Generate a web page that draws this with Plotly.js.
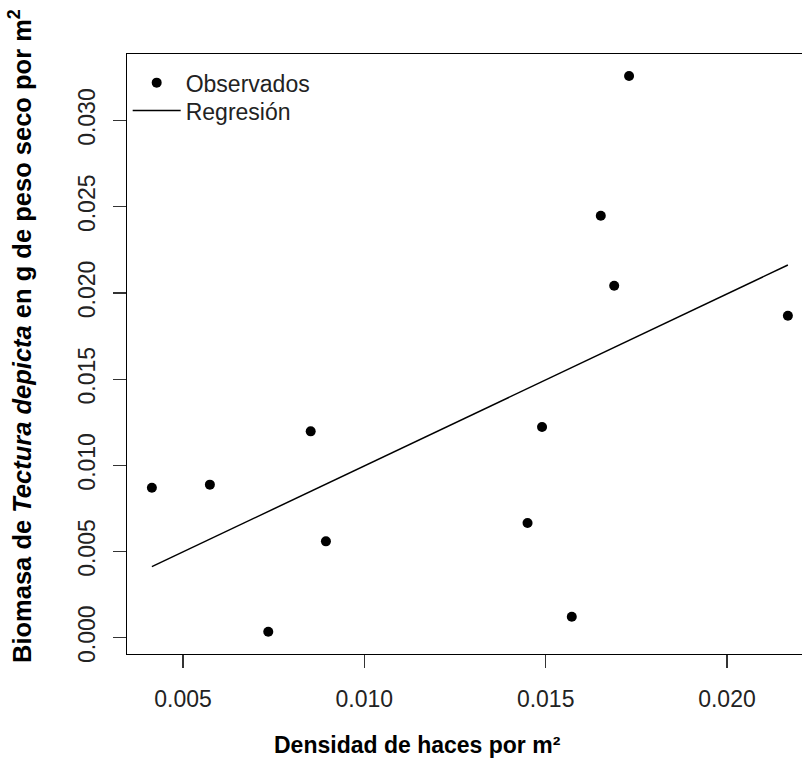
<!DOCTYPE html>
<html>
<head>
<meta charset="utf-8">
<script src="https://cdn.plot.ly/plotly-3.0.1.min.js"></script>
<style>
html, body { margin: 0; padding: 0; background: #fff; overflow: hidden; width: 802px; height: 761px; }
#chart { width: 820px; height: 761px; }
</style>
</head>
<body>
<div id="chart"></div>
<script>
// Observed points (densidad de haces por m², biomasa g peso seco por m²)
const obsX = [0.00414, 0.00574, 0.00735, 0.00852, 0.00894, 0.01450, 0.01490, 0.01572, 0.01652, 0.01689, 0.01730, 0.02168];
const obsY = [0.00870, 0.00888, 0.00035, 0.01197, 0.00559, 0.00665, 0.01222, 0.00122, 0.02448, 0.02042, 0.03258, 0.01868];
// Regression line end points
const regX = [0.00414, 0.02168];
const regY = [0.00412, 0.02162];
// Tick labels
const xTickVals = [0.005, 0.010, 0.015, 0.020];
const xTickText = ['0.005', '0.010', '0.015', '0.020'];
const yTickVals = [0.000, 0.005, 0.010, 0.015, 0.020, 0.025, 0.030];
const yTickText = ['0.000', '0.005', '0.010', '0.015', '0.020', '0.025', '0.030'];
const seriesNames = ['Observados', 'Regresión'];

const FONT = 'Liberation Sans, Arial, sans-serif';

const traces = [
  {
    x: obsX, y: obsY, type: 'scatter', mode: 'markers', name: seriesNames[0],
    marker: { color: '#000', size: 10 }, legend: 'legend'
  },
  {
    x: regX, y: regY, type: 'scatter', mode: 'lines', name: seriesNames[1],
    line: { color: '#000', width: 1.5 }, legend: 'legend2'
  }
];

const axisCommon = {
  showgrid: false, zeroline: false, showline: true, linecolor: '#000', linewidth: 1.3,
  mirror: true, ticks: 'outside', ticklen: 13, tickwidth: 1.2, tickcolor: '#333',
  tickfont: { family: FONT, size: 23, color: '#222' }, tickmode: 'array'
};

const legendCommon = {
  xanchor: 'left', yanchor: 'top', bgcolor: 'rgba(0,0,0,0)', borderwidth: 0,
  font: { family: FONT, size: 23, color: '#222' }, itemwidth: 48
};

const layout = {
  width: 820, height: 761,
  margin: { l: 127, r: 6, t: 54, b: 107 },
  paper_bgcolor: '#fff', plot_bgcolor: '#fff',
  showlegend: true,
  legend: Object.assign({}, legendCommon, { x: 0.001, y: 0.988 }),
  legend2: Object.assign({}, legendCommon, { x: 0.001, y: 0.9415 }),
  xaxis: Object.assign({}, axisCommon, {
    range: [0.003454, 0.0224], tickvals: xTickVals, ticktext: xTickText,
    ticklabelstandoff: 11
  }),
  yaxis: Object.assign({}, axisCommon, {
    range: [-0.000945, 0.03386], tickvals: yTickVals, ticktext: yTickText,
    tickangle: -90, ticklabelstandoff: 9
  }),
  annotations: [
    {
      xref: 'paper', yref: 'paper', x: 0.423, y: 0, yshift: -91,
      xanchor: 'center', yanchor: 'middle', showarrow: false,
      text: '<b>Densidad de haces por m²</b>',
      font: { family: FONT, size: 23, color: '#000' }
    },
    {
      xref: 'paper', yref: 'paper', x: 0, y: 0.53, xshift: -107,
      xanchor: 'center', yanchor: 'middle', showarrow: false, textangle: -90,
      text: '<b>Biomasa de <i>Tectura depicta</i> en g de peso seco por m<sup>2</sup></b>',
      font: { family: FONT, size: 25.5, color: '#000' }
    }
  ]
};

Plotly.newPlot('chart', traces, layout, { displayModeBar: false, staticPlot: true });
</script>
</body>
</html>
